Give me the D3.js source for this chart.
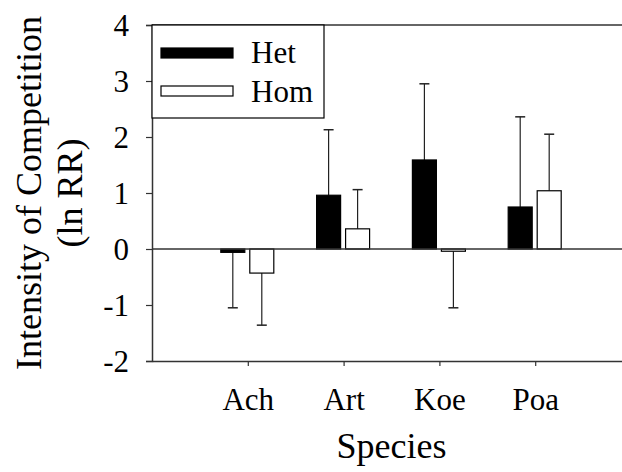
<!DOCTYPE html>
<html>
<head>
<meta charset="utf-8">
<script src="https://cdn.jsdelivr.net/npm/d3@7/dist/d3.min.js"></script>
</head>
<body style="margin:0">
<svg id="fig" width="622" height="472" style="display:block"></svg>
<script>
// Competition intensity (ln RR) by species, heterospecific vs homospecific neighbours
const species = ["Ach", "Art", "Koe", "Poa"];
const treatments = ["Het", "Hom"];
const hetMean = [-0.06, 0.96, 1.59, 0.75];
const hetErr  = [0.99, 1.17, 1.36, 1.61];
const homMean = [-0.43, 0.36, -0.04, 1.04];
const homErr  = [0.93, 0.70, 1.01, 1.01];
const yTicks = [-2, -1, 0, 1, 2, 3, 4];

const rows = [];
species.forEach((s, i) => {
  rows.push({ species: s, trt: "Het", mean: hetMean[i], err: hetErr[i] });
  rows.push({ species: s, trt: "Hom", mean: homMean[i], err: homErr[i] });
});

const svg = d3.select("#fig");
const plotLeft = 152, plotRight = 631, plotTop = 25, plotBottom = 361;

const x = d3.scalePoint().domain(species).range([plotLeft, plotRight]).padding(1);
const xInner = d3.scaleBand().domain(treatments).range([-27, 26]).paddingInner(0.172);
const y = d3.scaleLinear().domain([-2, 4]).range([plotBottom, plotTop]);

const fills = { Het: "#000", Hom: "#fff" };
const axisColor = "#333";
const serifFace = '"Liberation Serif"';

// text styling: serif face, black fill
function setFont(sel, size) {
  return sel
    .style("font-family", serifFace)
    .attr("font-size", size)
    .attr("fill", "#000");
}

// top edge of the frame
svg.append("line")
  .attr("x1", plotLeft).attr("x2", plotRight).attr("y1", y(4)).attr("y2", y(4))
  .attr("stroke", axisColor).attr("stroke-width", 1.5);

// error bars, drawn away from zero
const eb = svg.append("g");
rows.forEach(d => {
  const cx = x(d.species) + xInner(d.trt) + xInner.bandwidth() / 2;
  const end = d.mean >= 0 ? d.mean + d.err : d.mean - d.err;
  eb.append("line")
    .attr("x1", cx).attr("x2", cx)
    .attr("y1", y(d.mean)).attr("y2", y(end))
    .attr("stroke", "#222").attr("stroke-width", 1.2);
  eb.append("line")
    .attr("x1", cx - 5).attr("x2", cx + 5)
    .attr("y1", y(end)).attr("y2", y(end))
    .attr("stroke", "#222").attr("stroke-width", 1.5);
});

// bars
svg.append("g").selectAll("rect").data(rows).join("rect")
  .attr("x", d => x(d.species) + xInner(d.trt))
  .attr("width", xInner.bandwidth())
  .attr("y", d => y(Math.max(0, d.mean)))
  .attr("height", d => Math.abs(y(d.mean) - y(0)))
  .attr("fill", d => fills[d.trt])
  .attr("stroke", "#000").attr("stroke-width", 1.2);

// zero line
svg.append("line")
  .attr("x1", plotLeft).attr("x2", plotRight).attr("y1", y(0)).attr("y2", y(0))
  .attr("stroke", axisColor).attr("stroke-width", 1.5);

// y axis (plain hyphen for negatives)
const yAxis = svg.append("g")
  .attr("transform", `translate(${plotLeft},0)`)
  .call(d3.axisLeft(y).tickValues(yTicks).tickSize(6).tickPadding(17).tickFormat(d => String(d)));
yAxis.select(".domain").attr("stroke", axisColor).attr("stroke-width", 1.5).attr("fill", "none");
yAxis.selectAll(".tick line").attr("stroke", axisColor).attr("stroke-width", 1.2);
setFont(yAxis.selectAll(".tick text"), 31).attr("dy", "0.33em");

// x axis
const xAxis = svg.append("g")
  .attr("transform", `translate(0,${plotBottom})`)
  .call(d3.axisBottom(x).tickSize(5).tickPadding(22).tickSizeOuter(0));
xAxis.select(".domain").attr("stroke", axisColor).attr("stroke-width", 1.5).attr("fill", "none");
xAxis.selectAll(".tick line").attr("stroke", axisColor).attr("stroke-width", 1.2);
setFont(xAxis.selectAll(".tick text"), 31).attr("dy", "0.71em");

// axis titles
setFont(svg.append("text"), 36)
  .attr("x", (x(species[0]) + x(species[species.length - 1])) / 2).attr("y", 458)
  .attr("text-anchor", "middle")
  .text("Species");

const yTitle = setFont(svg.append("text"), 36)
  .attr("transform", `translate(41,${(plotTop + plotBottom) / 2}) rotate(-90)`)
  .attr("text-anchor", "middle");
yTitle.append("tspan").attr("x", 0).attr("y", 0).text("Intensity of Competition");
yTitle.append("tspan").attr("x", 0).attr("y", 41).text("(ln RR)");

// legend
const lg = svg.append("g");
lg.append("rect")
  .attr("x", plotLeft).attr("y", plotTop).attr("width", 172).attr("height", 93)
  .attr("fill", "#fff").attr("stroke", "#000").attr("stroke-width", 1.2);
treatments.forEach((t, i) => {
  lg.append("rect")
    .attr("x", 161).attr("y", 48 + i * 38).attr("width", 72).attr("height", 10)
    .attr("fill", fills[t]).attr("stroke", "#000").attr("stroke-width", 1.2);
  setFont(lg.append("text"), 31)
    .attr("x", 251).attr("y", 63 + i * 38.5)
    .text(t);
});
</script>
</body>
</html>
